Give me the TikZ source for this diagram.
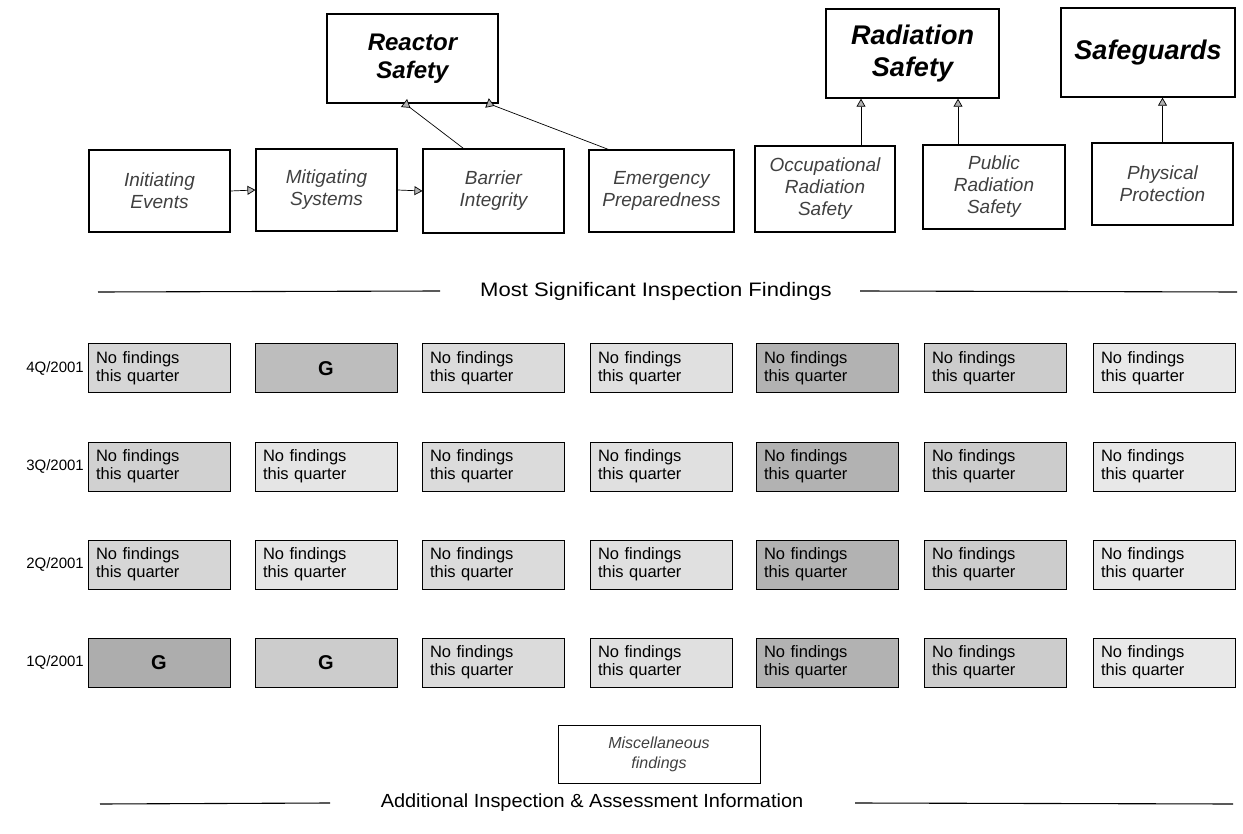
\documentclass[tikz,border=0pt]{standalone}
\usepackage{fontspec}
\setmainfont{Liberation Sans}
\usetikzlibrary{arrows.meta}
\tikzset{
  x=1pt,y=-1pt,
  bigbox/.style={draw,line width=1.4pt,inner sep=0pt,align=center,font=\fontsize{24}{28}\selectfont\bfseries\itshape},
  subbox/.style={draw,line width=1.1pt,inner sep=0pt,align=center,text=black!75,font=\fontsize{19}{22}\selectfont\itshape},
  cell/.style={draw,line width=1pt,inner sep=0pt,minimum width=142pt,minimum height=49pt,text width=130pt,align=left,font=\fontsize{16.5}{18}\selectfont},
  gcell/.style={draw,line width=1pt,inner sep=0pt,minimum width=142pt,minimum height=49pt,align=center,font=\fontsize{20}{22}\selectfont\bfseries},
  rowlab/.style={anchor=east,inner sep=0pt,font=\fontsize{15}{17}\selectfont},
  tri/.style={-{Triangle[open,length=8pt,width=9pt,fill=black!30]},line width=0.7pt},
  rtri/.style={-{Triangle[open,reversed,length=8pt,width=10pt,fill=black!30]},line width=0.7pt},
  hline/.style={line width=1.1pt},
}
\begin{document}
\begin{tikzpicture}
\useasboundingbox (0,0) rectangle (1243,834);
% top categories
\node[bigbox,minimum width=171pt,minimum height=89pt] (RS) at (412.5,58.5) {Reactor\\Safety};
\node[bigbox,minimum width=173pt,minimum height=89pt,font=\fontsize{27}{32}\selectfont\bfseries\itshape] (RadS) at (912.5,53.5) {Radiation\\Safety};
\node[bigbox,minimum width=174pt,minimum height=89pt,font=\fontsize{27}{32}\selectfont\bfseries\itshape] (SG) at (1148,52.5) {Safeguards};
% cornerstones
\node[subbox,minimum width=141pt,minimum height=82pt] (IE) at (159.5,191) {Initiating\\Events};
\node[subbox,minimum width=141pt,minimum height=82pt] (MS) at (326.5,190) {Mitigating\\Systems};
\node[subbox,minimum width=141pt,minimum height=84pt] (BI) at (493.5,191) {Barrier\\Integrity};
\node[subbox,minimum width=145pt,minimum height=82pt] (EP) at (661.5,191) {Emergency\\Preparedness};
\node[subbox,minimum width=140pt,minimum height=86pt] (OR) at (825,189) {Occupational\\Radiation\\Safety};
\node[subbox,minimum width=142pt,minimum height=84pt] (PR) at (994,187) {Public\\Radiation\\Safety};
\node[subbox,minimum width=141pt,minimum height=82pt] (PP) at (1162.5,184) {Physical\\Protection};
% connectors
\draw[tri] (IE.east) -- (MS.west);
\draw[tri] (MS.east) -- (BI.west);
\coordinate (rsa) at (404,103);
\coordinate (rsb) at (487,103);
\draw[rtri] (BI.north) ++(-30,0) coordinate (bia) -- (rsa);
\draw[rtri] (EP.north west) ++(20,0) coordinate (epa) -- (rsb);
\draw[tri] (OR.north) ++(36,0) coordinate (ora) -- (ora |- RadS.south);
\draw[tri] (PR.north) ++(-36,0) coordinate (pra) -- (pra |- RadS.south);
\draw[tri] (PP.north) -- (PP.north |- SG.south);
% header
\node[inner sep=0pt,font=\fontsize{19.5}{22}\selectfont] (H1) at (656,291) {\scalebox{1.13}[1]{Most Significant Inspection Findings}};
\coordinate (h1l) at (98,292);
\coordinate (h1r) at (1237,292);
\draw[hline] (h1l) -- (H1.west -| 440,0);
\draw[hline] (H1.east -| 860,0) -- (h1r);
% rows
\foreach \r/\lab/\y in {4/4Q/368.5,3/3Q/466.5,2/2Q/564.5,1/1Q/662.5}{
  \node[rowlab] (L\r) at (84,\y) {\lab/2001};
}
\foreach \r/\y in {4/368.5,3/466.5,2/564.5,1/662.5}{
  \foreach \c/\x/\f in {3/493/black!14,4/661/black!12,5/827/black!30,6/995/black!20,7/1164/black!9}{
    \node[cell,fill=\f] (C\r\c) at (\x,\y) {\hspace*{2pt}No findings\\\hspace*{2pt}this quarter};
  }
}
\node[cell,fill=black!16] (C41) at (159,368.5) {\hspace*{2pt}No findings\\\hspace*{2pt}this quarter};
\node[gcell,fill=black!26] (C42) at (326,368.5) {G};
\node[cell,fill=black!18] (C31) at (159,466.5) {\hspace*{2pt}No findings\\\hspace*{2pt}this quarter};
\node[cell,fill=black!10] (C32) at (326,466.5) {\hspace*{2pt}No findings\\\hspace*{2pt}this quarter};
\node[cell,fill=black!16] (C21) at (159,564.5) {\hspace*{2pt}No findings\\\hspace*{2pt}this quarter};
\node[cell,fill=black!10] (C22) at (326,564.5) {\hspace*{2pt}No findings\\\hspace*{2pt}this quarter};
\node[gcell,fill=black!32] (C11) at (159,662.5) {G};
\node[gcell,fill=black!20] (C12) at (326,662.5) {G};
% misc
\node[draw,line width=0.8pt,minimum width=202pt,minimum height=58pt,inner sep=0pt,align=center,text=black!75,font=\fontsize{16}{20}\selectfont\itshape] (MF) at (659,754) {Miscellaneous\\findings};
% bottom header
\node[inner sep=0pt,font=\fontsize{19}{20}\selectfont] (H2) at (592,803) {\scalebox{1.05}[1]{Additional Inspection \& Assessment Information}};
\coordinate (h2l) at (100,804);
\coordinate (h2r) at (1233,804);
\draw[hline] (h2l) -- (H2.west -| 330,0);
\draw[hline] (H2.east -| 855,0) -- (h2r);
\end{tikzpicture}
\end{document}
